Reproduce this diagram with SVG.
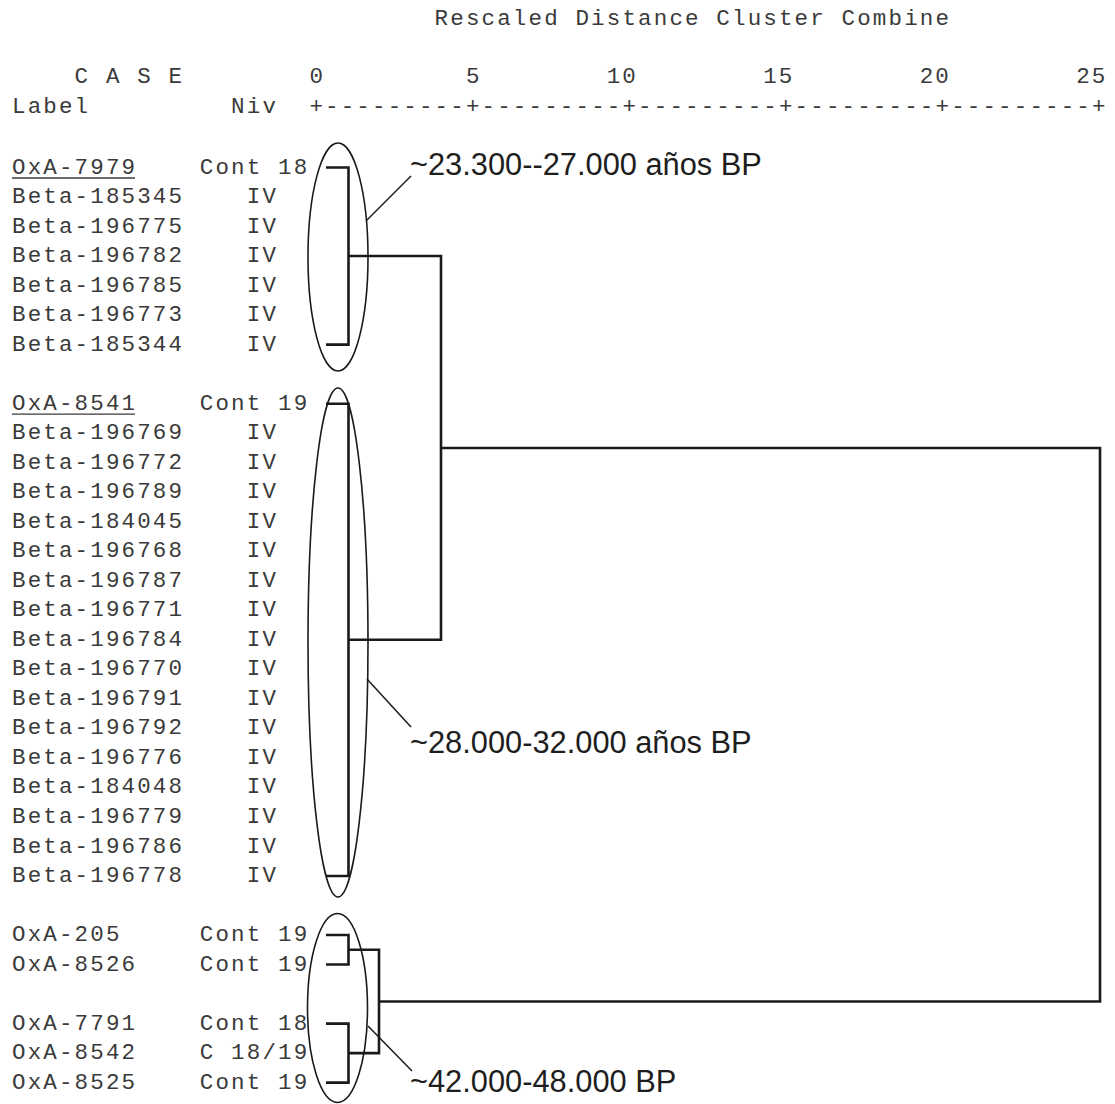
<svg xmlns="http://www.w3.org/2000/svg" width="1115" height="1104" viewBox="0 0 1115 1104">
<style>
.m{font-family:"Liberation Mono","Courier New",monospace;font-size:22.5px;letter-spacing:2.15px;fill:#3a3a3a;}
.a{font-family:"Liberation Sans",Arial,Helvetica,sans-serif;font-size:30.8px;fill:#1e1e1e;}
.d{fill:none;stroke:#1a1a1a;stroke-width:2.6;stroke-linejoin:miter;}
.e{fill:none;stroke:#1a1a1a;stroke-width:1.6;}
.l{fill:none;stroke:#1a1a1a;stroke-width:1.5;}
.u{stroke:#3a3a3a;stroke-width:1.3;}
</style>
<rect width="1115" height="1104" fill="#fff"/>
<g id="header">
<text class="m" x="434.6" y="25">Rescaled Distance Cluster Combine</text>
<text class="m" x="74.6" y="83">C A S E</text>
<text class="m" x="309.4" y="83">0</text>
<text class="m" x="465.9" y="83">5</text>
<text class="m" x="606.7" y="83">10</text>
<text class="m" x="763.2" y="83">15</text>
<text class="m" x="919.7" y="83">20</text>
<text class="m" x="1076.2" y="83">25</text>
<text class="m" x="12" y="113">Label</text>
<text class="m" x="231.1" y="113">Niv</text>
<text class="m" x="309.4" y="113">+---------+---------+---------+---------+---------+</text>
</g>
<g id="leaves">
<g id="r0"><text class="m" x="12" y="173.5">OxA-7979</text><line class="u" x1="12" y1="178" x2="135" y2="178"/><text class="m" x="199.8" y="173.5">Cont 18</text></g>
<g id="r1"><text class="m" x="12" y="203">Beta-185345</text><text class="m" x="246.8" y="203">IV</text></g>
<g id="r2"><text class="m" x="12" y="232.5">Beta-196775</text><text class="m" x="246.8" y="232.5">IV</text></g>
<g id="r3"><text class="m" x="12" y="262.1">Beta-196782</text><text class="m" x="246.8" y="262.1">IV</text></g>
<g id="r4"><text class="m" x="12" y="291.6">Beta-196785</text><text class="m" x="246.8" y="291.6">IV</text></g>
<g id="r5"><text class="m" x="12" y="321.1">Beta-196773</text><text class="m" x="246.8" y="321.1">IV</text></g>
<g id="r6"><text class="m" x="12" y="350.6">Beta-185344</text><text class="m" x="246.8" y="350.6">IV</text></g>
<g id="r8"><text class="m" x="12" y="409.7">OxA-8541</text><line class="u" x1="12" y1="414.2" x2="135" y2="414.2"/><text class="m" x="199.8" y="409.7">Cont 19</text></g>
<g id="r9"><text class="m" x="12" y="439.2">Beta-196769</text><text class="m" x="246.8" y="439.2">IV</text></g>
<g id="r10"><text class="m" x="12" y="468.7">Beta-196772</text><text class="m" x="246.8" y="468.7">IV</text></g>
<g id="r11"><text class="m" x="12" y="498.2">Beta-196789</text><text class="m" x="246.8" y="498.2">IV</text></g>
<g id="r12"><text class="m" x="12" y="527.7">Beta-184045</text><text class="m" x="246.8" y="527.7">IV</text></g>
<g id="r13"><text class="m" x="12" y="557.3">Beta-196768</text><text class="m" x="246.8" y="557.3">IV</text></g>
<g id="r14"><text class="m" x="12" y="586.8">Beta-196787</text><text class="m" x="246.8" y="586.8">IV</text></g>
<g id="r15"><text class="m" x="12" y="616.3">Beta-196771</text><text class="m" x="246.8" y="616.3">IV</text></g>
<g id="r16"><text class="m" x="12" y="645.8">Beta-196784</text><text class="m" x="246.8" y="645.8">IV</text></g>
<g id="r17"><text class="m" x="12" y="675.3">Beta-196770</text><text class="m" x="246.8" y="675.3">IV</text></g>
<g id="r18"><text class="m" x="12" y="704.9">Beta-196791</text><text class="m" x="246.8" y="704.9">IV</text></g>
<g id="r19"><text class="m" x="12" y="734.4">Beta-196792</text><text class="m" x="246.8" y="734.4">IV</text></g>
<g id="r20"><text class="m" x="12" y="763.9">Beta-196776</text><text class="m" x="246.8" y="763.9">IV</text></g>
<g id="r21"><text class="m" x="12" y="793.4">Beta-184048</text><text class="m" x="246.8" y="793.4">IV</text></g>
<g id="r22"><text class="m" x="12" y="822.9">Beta-196779</text><text class="m" x="246.8" y="822.9">IV</text></g>
<g id="r23"><text class="m" x="12" y="852.5">Beta-196786</text><text class="m" x="246.8" y="852.5">IV</text></g>
<g id="r24"><text class="m" x="12" y="882">Beta-196778</text><text class="m" x="246.8" y="882">IV</text></g>
<g id="r26"><text class="m" x="12" y="941">OxA-205</text><text class="m" x="199.8" y="941">Cont 19</text></g>
<g id="r27"><text class="m" x="12" y="970.5">OxA-8526</text><text class="m" x="199.8" y="970.5">Cont 19</text></g>
<g id="r29"><text class="m" x="12" y="1029.6">OxA-7791</text><text class="m" x="199.8" y="1029.6">Cont 18</text></g>
<g id="r30"><text class="m" x="12" y="1059.1">OxA-8542</text><text class="m" x="199.8" y="1059.1">C 18/19</text></g>
<g id="r31"><text class="m" x="12" y="1088.6">OxA-8525</text><text class="m" x="199.8" y="1088.6">Cont 19</text></g>
</g>
<g id="connectors">
<path class="d" d="M326,167.5 H348.5 V344.6 H326"/>
<path class="d" d="M348.5,256 H441 V639.8 H348.5"/>
<path class="d" d="M326,403.7 H348.5 V876 H326"/>
<path class="d" d="M441,448 H1100 V1001.5 H379"/>
<path class="d" d="M326,935 H348.5 V964.5 H326"/>
<path class="d" d="M348.5,949.8 H379 V1053.1 H348.5"/>
<path class="d" d="M326,1023.6 H348.5 V1082.6 H326"/>
</g>
<g id="cluster1">
<ellipse class="e" cx="338" cy="257" rx="30" ry="114"/>
<line class="l" x1="366" y1="221" x2="411" y2="176"/>
<text class="a" x="410" y="175">~23.300--27.000 años BP</text>
</g>
<g id="cluster2">
<ellipse class="e" cx="338" cy="642.5" rx="30" ry="254.5"/>
<line class="l" x1="367" y1="679" x2="411" y2="727"/>
<text class="a" x="410" y="753">~28.000-32.000 años BP</text>
</g>
<g id="cluster3">
<ellipse class="e" cx="337.5" cy="1008" rx="30" ry="94.5"/>
<line class="l" x1="368" y1="1026" x2="412" y2="1071"/>
<text class="a" x="410" y="1092">~42.000-48.000 BP</text>
</g>
</svg>
